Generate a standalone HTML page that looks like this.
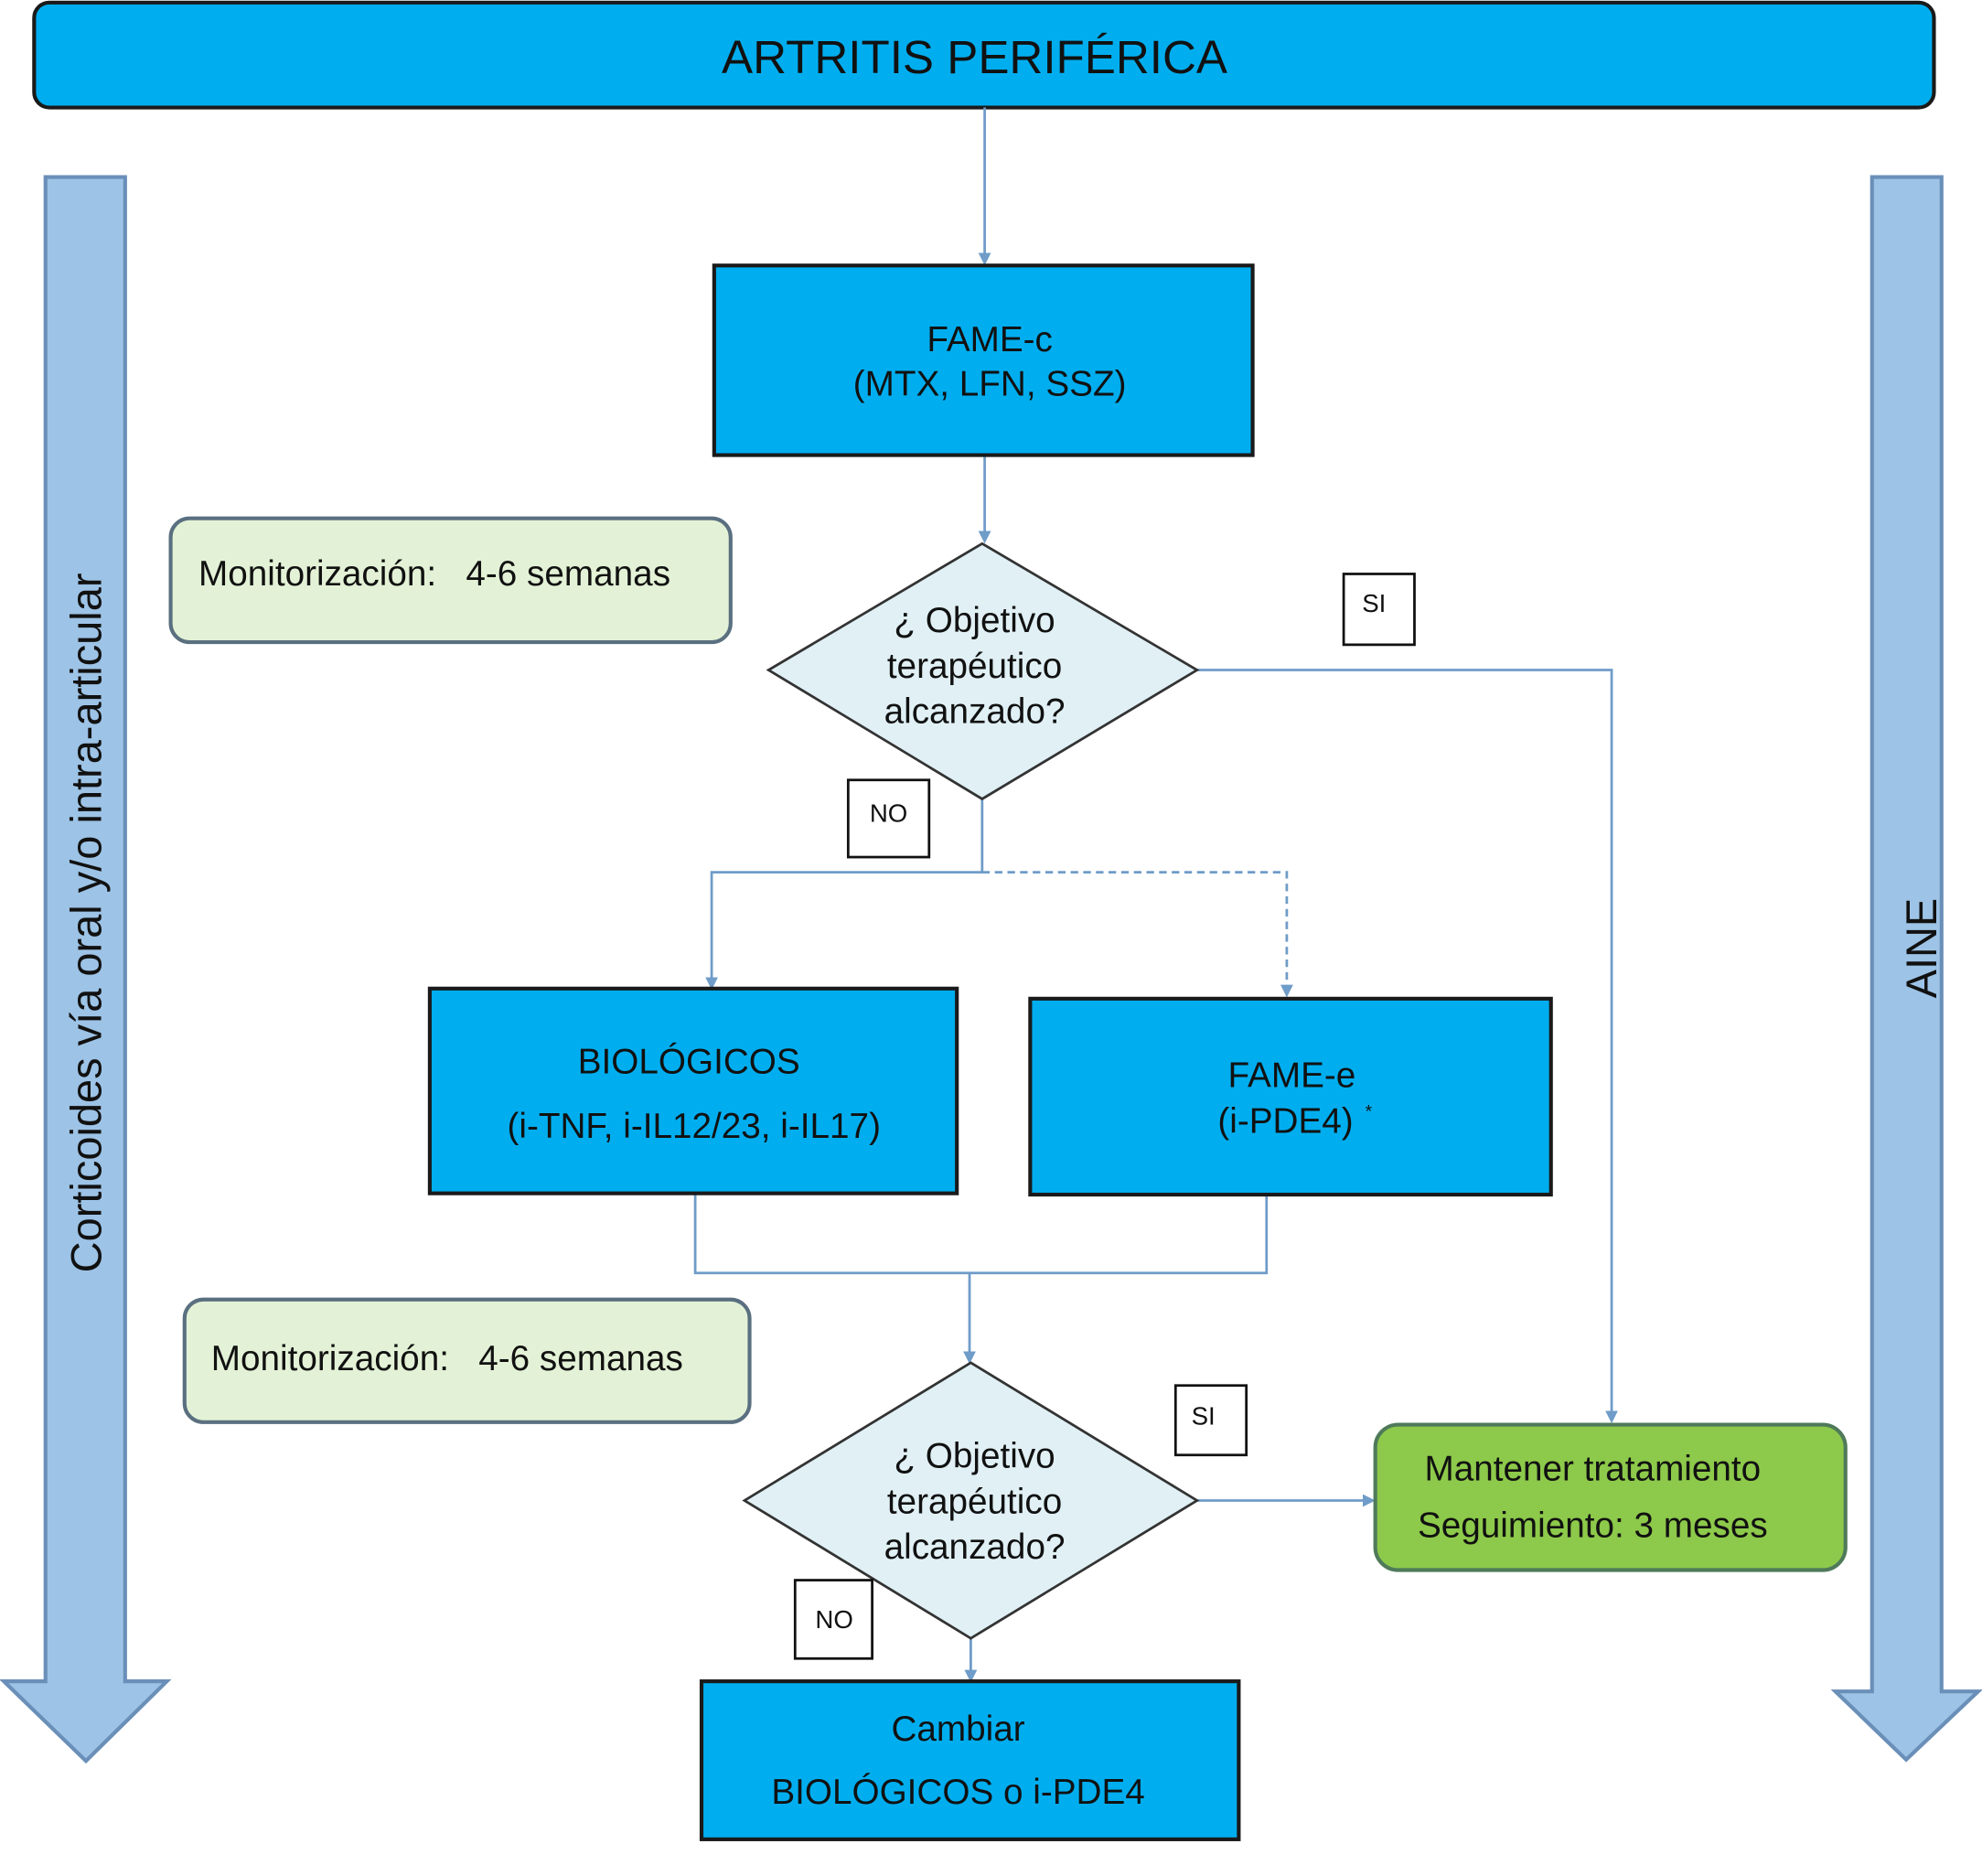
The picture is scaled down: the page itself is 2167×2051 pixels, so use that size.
<!DOCTYPE html>
<html><head><meta charset="utf-8"><style>
html,body{margin:0;padding:0;background:#fff;}
svg{display:block;}
text{font-family:"Liberation Sans",sans-serif;fill:#111;}
</style></head><body>
<svg width="2167" height="2051" viewBox="0 0 1568 1484" xmlns="http://www.w3.org/2000/svg">
<defs>
<marker id="ah" markerWidth="10" markerHeight="10" refX="8" refY="5" orient="auto" markerUnits="userSpaceOnUse">
<path d="M0,0 L10,5 L0,10 z" fill="#6f9cc8"/></marker>
</defs>
<!-- side arrows -->
<path d="M36,140 L99,140 L99,1330 L132,1330 L68,1393 L3,1330 L36,1330 Z" fill="#9dc3e6" stroke="#6a8fb8" stroke-width="3"/>
<text transform="translate(80,730) rotate(-90)" text-anchor="middle" font-size="34">Corticoides vía oral y/o intra-articular</text>
<path d="M1481,140 L1536,140 L1536,1338 L1565,1338 L1508,1392 L1452,1338 L1481,1338 Z" fill="#9dc3e6" stroke="#6a8fb8" stroke-width="3"/>
<text transform="translate(1532,750) rotate(-90)" text-anchor="middle" font-size="34">AINE</text>
<!-- title -->
<rect x="27" y="2" width="1503" height="83" rx="12" fill="#00aeef" stroke="#1a1a1a" stroke-width="3"/>
<text x="771" y="58" text-anchor="middle" font-size="37">ARTRITIS PERIFÉRICA</text>
<!-- connectors -->
<g stroke="#6f9cc8" stroke-width="2" fill="none">
<line x1="779" y1="85" x2="779" y2="208" marker-end="url(#ah)"/>
<line x1="779" y1="360" x2="779" y2="428" marker-end="url(#ah)"/>
<polyline points="947,530 1275,530 1275,1124" marker-end="url(#ah)"/>
<polyline points="777,632 777,690 563,690 563,781" marker-end="url(#ah)"/>
<polyline points="777,690 1018,690 1018,787" stroke-dasharray="6,4" marker-end="url(#ah)"/>
<polyline points="550,944 550,1007 1002,1007 1002,945"/>
<line x1="767" y1="1007" x2="767" y2="1077" marker-end="url(#ah)"/>
<line x1="947" y1="1187" x2="1086" y2="1187" marker-end="url(#ah)"/>
<line x1="768" y1="1296" x2="768" y2="1329" marker-end="url(#ah)"/>
</g>
<!-- FAME-c -->
<rect x="565" y="210" width="426" height="150" fill="#00aeef" stroke="#1a1a1a" stroke-width="3"/>
<text x="783" y="278" text-anchor="middle" font-size="28">FAME-c</text>
<text x="783" y="313" text-anchor="middle" font-size="28">(MTX, LFN, SSZ)</text>
<!-- monitor 1 -->
<rect x="135" y="410" width="443" height="98" rx="15" fill="#e3f2d6" stroke="#5a7080" stroke-width="3"/>
<text x="157" y="463" font-size="28" xml:space="preserve">Monitorización:   4-6 semanas</text>
<!-- diamond 1 -->
<polygon points="777,430 947,530 777,632 608,530" fill="#e0f0f5" stroke="#333" stroke-width="2"/>
<text x="771" y="500" text-anchor="middle" font-size="28">¿ Objetivo</text>
<text x="771" y="536" text-anchor="middle" font-size="28">terapéutico</text>
<text x="771" y="572" text-anchor="middle" font-size="28">alcanzado?</text>
<rect x="1063" y="454" width="56" height="56" fill="#fff" stroke="#111" stroke-width="2"/>
<text x="1087" y="484" text-anchor="middle" font-size="20">SI</text>
<rect x="671" y="617" width="64" height="61" fill="#fff" stroke="#111" stroke-width="2"/>
<text x="703" y="650" text-anchor="middle" font-size="20">NO</text>
<!-- biologicos -->
<rect x="340" y="782" width="417" height="162" fill="#00aeef" stroke="#1a1a1a" stroke-width="3"/>
<text x="545" y="849" text-anchor="middle" font-size="28">BIOLÓGICOS</text>
<text x="549" y="900" text-anchor="middle" font-size="28">(i-TNF, i-IL12/23, i-IL17)</text>
<!-- fame-e -->
<rect x="815" y="790" width="412" height="155" fill="#00aeef" stroke="#1a1a1a" stroke-width="3"/>
<text x="1022" y="860" text-anchor="middle" font-size="28">FAME-e</text>
<text x="1017" y="896" text-anchor="middle" font-size="28">(i-PDE4)</text>
<text x="1080" y="884" font-size="14">*</text>
<!-- monitor 2 -->
<rect x="146" y="1028" width="447" height="97" rx="15" fill="#e3f2d6" stroke="#5a7080" stroke-width="3"/>
<text x="167" y="1084" font-size="28" xml:space="preserve">Monitorización:   4-6 semanas</text>
<!-- diamond 2 -->
<polygon points="768,1078 947,1187 768,1296 589,1187" fill="#e0f0f5" stroke="#333" stroke-width="2"/>
<text x="771" y="1161" text-anchor="middle" font-size="28">¿ Objetivo</text>
<text x="771" y="1197" text-anchor="middle" font-size="28">terapéutico</text>
<text x="771" y="1233" text-anchor="middle" font-size="28">alcanzado?</text>
<rect x="930" y="1096" width="56" height="55" fill="#fff" stroke="#111" stroke-width="2"/>
<text x="952" y="1127" text-anchor="middle" font-size="20">SI</text>
<rect x="629" y="1250" width="61" height="62" fill="#fff" stroke="#111" stroke-width="2"/>
<text x="660" y="1288" text-anchor="middle" font-size="20">NO</text>
<!-- mantener -->
<rect x="1088" y="1127" width="372" height="115" rx="18" fill="#8dc94a" stroke="#4f7a5a" stroke-width="3"/>
<text x="1260" y="1171" text-anchor="middle" font-size="28">Mantener tratamiento</text>
<text x="1260" y="1216" text-anchor="middle" font-size="28">Seguimiento: 3 meses</text>
<!-- cambiar -->
<rect x="555" y="1330" width="425" height="125" fill="#00aeef" stroke="#1a1a1a" stroke-width="3"/>
<text x="758" y="1377" text-anchor="middle" font-size="28">Cambiar</text>
<text x="758" y="1427" text-anchor="middle" font-size="28">BIOLÓGICOS o i-PDE4</text>
</svg>
</body></html>
